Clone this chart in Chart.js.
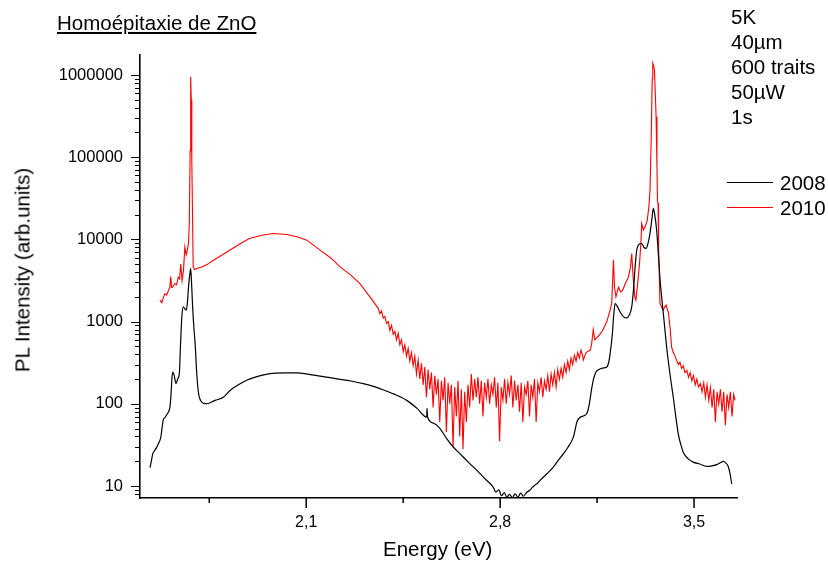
<!DOCTYPE html>
<html>
<head>
<meta charset="utf-8">
<script src="https://cdn.jsdelivr.net/npm/chart.js@4.4.0/dist/chart.umd.min.js"></script>
<style>
  body { margin: 0; background: #fff; }
  #wrap { position: relative; width: 828px; height: 564px; font-family: "Liberation Sans", Arial, sans-serif; color: #000; }
  #chart { position: absolute; left: 0; top: 0; }
  .txt { position: absolute; white-space: nowrap; font-size: 20.5px; line-height: 25px; }
  .legline { position: absolute; height: 0; width: 46px; }
</style>
</head>
<body>
<div id="wrap">
  <canvas id="chart" width="828" height="564"></canvas>
  <div class="txt" style="left:57px; top:10px; text-decoration: underline;">Homoépitaxie de ZnO</div>
  <div class="txt" style="left:731px; top:4px;">5K<br>40µm<br>600 traits<br>50µW<br>1s</div>
  <div class="legline" style="left:727px; top:182px; border-top:1.3px solid #000;"></div>
  <div class="txt" style="left:780px; top:170px;">2008</div>
  <div class="legline" style="left:727px; top:207px; border-top:1.3px solid #ff0000;"></div>
  <div class="txt" style="left:780px; top:195px;">2010</div>
  <div class="txt" style="left:383px; top:536px;">Energy (eV)</div>
  <div class="txt" style="left:22px; top:270px; transform: translate(-50%, -50%) rotate(-90deg);">PL Intensity (arb.units)</div>
</div>
<script>
// energy axis (eV) and PL intensity (arb. units)
const xTicks = [2.1, 2.8, 3.5];
const xMinorTicks = [1.75, 2.45, 3.15];
const yTicks = [10, 100, 1000, 10000, 100000, 1000000];

const energy2008 = [1.536, 1.541, 1.546, 1.553, 1.560, 1.567, 1.575, 1.580, 1.584, 1.590, 1.597, 1.603, 1.608, 1.612, 1.615, 1.618, 1.623, 1.630, 1.636, 1.642, 1.646, 1.651, 1.656, 1.662, 1.667, 1.671, 1.675, 1.680, 1.683, 1.686, 1.690, 1.695, 1.699, 1.704, 1.710, 1.716, 1.723, 1.731, 1.741, 1.771, 1.801, 1.825, 1.855, 1.885, 1.925, 1.969, 2.020, 2.066, 2.110, 2.150, 2.190, 2.222, 2.265, 2.306, 2.340, 2.366, 2.415, 2.463, 2.500, 2.535, 2.536, 2.538, 2.560, 2.583, 2.607, 2.630, 2.655, 2.685, 2.716, 2.745, 2.775, 2.785, 2.795, 2.805, 2.815, 2.824, 2.834, 2.844, 2.854, 2.864, 2.874, 2.884, 2.896, 2.906, 2.916, 2.926, 2.935, 2.944, 2.968, 2.992, 3.010, 3.028, 3.046, 3.064, 3.070, 3.077, 3.088, 3.100, 3.113, 3.122, 3.130, 3.136, 3.145, 3.155, 3.170, 3.185, 3.192, 3.197, 3.205, 3.210, 3.215, 3.222, 3.233, 3.245, 3.257, 3.266, 3.275, 3.282, 3.288, 3.293, 3.300, 3.305, 3.311, 3.320, 3.327, 3.334, 3.341, 3.348, 3.353, 3.358, 3.365, 3.372, 3.377, 3.383, 3.392, 3.401, 3.413, 3.425, 3.434, 3.443, 3.452, 3.461, 3.478, 3.497, 3.520, 3.546, 3.565, 3.582, 3.595, 3.606, 3.615, 3.624, 3.630, 3.636];
const pl2008 = [16.7, 20, 24.6, 27, 29.5, 33, 39, 52, 64, 68, 74, 80, 91, 130, 200, 243, 225, 176, 200, 234, 500, 1137, 1510, 1430, 1380, 1700, 2600, 3800, 4420, 3000, 1500, 800, 540, 260, 145, 115, 105, 101, 100, 110, 120, 145, 170, 193, 215, 233, 237, 237, 228, 217, 207, 198, 188, 176, 164, 153, 132, 110, 88, 69, 88, 69, 58, 50, 37.6, 30, 24.7, 19.5, 15.5, 12.3, 9.7, 8.4, 9.0, 7.6, 8.3, 7.3, 7.9, 7.2, 8.0, 7.3, 8.2, 7.5, 8.4, 8.8, 9.6, 10.3, 10.8, 11.7, 14, 17, 20.5, 24.6, 30, 39, 47, 60, 68, 71, 76, 100, 150, 193, 240, 260, 272, 280, 320, 407, 700, 1200, 1650, 1550, 1310, 1150, 1107, 1200, 1510, 2600, 5000, 7380, 8600, 8900, 8900, 7900, 7760, 9000, 11800, 18000, 23800, 20000, 12900, 6000, 3300, 2000, 1000, 490, 230, 120, 70, 43, 32, 25.8, 21.5, 19.5, 18.5, 17.3, 17.6, 18.2, 19.2, 19.9, 19, 17, 14, 10.6];

const energy2010 = [1.572, 1.579, 1.585, 1.590, 1.596, 1.601, 1.608, 1.611, 1.614, 1.618, 1.626, 1.632, 1.638, 1.643, 1.647, 1.652, 1.657, 1.662, 1.667, 1.671, 1.675, 1.678, 1.681, 1.683, 1.685, 1.687, 1.690, 1.692, 1.697, 1.705, 1.723, 1.745, 1.765, 1.795, 1.825, 1.860, 1.895, 1.940, 1.981, 2.030, 2.070, 2.102, 2.150, 2.190, 2.222, 2.260, 2.294, 2.330, 2.360,
  2.366, 2.372, 2.378, 2.384, 2.390, 2.396, 2.402, 2.408, 2.414, 2.420, 2.426, 2.432, 2.438, 2.444, 2.450, 2.456, 2.462, 2.468, 2.474, 2.480, 2.486, 2.492, 2.498, 2.504, 2.510, 2.516, 2.522, 2.528, 2.534, 2.540, 2.546, 2.552, 2.558, 2.564, 2.570, 2.576, 2.582, 2.588, 2.594, 2.600, 2.606, 2.612, 2.618, 2.624, 2.630, 2.636, 2.642, 2.648, 2.654, 2.660, 2.666, 2.672, 2.678, 2.684, 2.690, 2.696, 2.702, 2.708, 2.714, 2.720, 2.726, 2.732, 2.738, 2.744, 2.750, 2.756, 2.762, 2.768, 2.774, 2.780, 2.786, 2.792, 2.798, 2.804, 2.810, 2.816, 2.822, 2.828, 2.834, 2.840, 2.846, 2.852, 2.858, 2.864, 2.870, 2.876, 2.882, 2.888, 2.894, 2.900, 2.906, 2.912, 2.918, 2.924, 2.930, 2.936, 2.942, 2.948, 2.954, 2.960, 2.966, 2.972, 2.978, 2.984, 2.990, 2.996, 3.002, 3.008, 3.014, 3.020, 3.026, 3.032, 3.038, 3.044, 3.050, 3.056, 3.062, 3.068, 3.074, 3.080, 3.086, 3.092, 3.098,
  3.100, 3.110, 3.125, 3.130, 3.136, 3.142, 3.148, 3.160, 3.172, 3.185, 3.197, 3.203, 3.209, 3.213, 3.218, 3.227, 3.235, 3.242, 3.252, 3.263, 3.270, 3.275, 3.280, 3.286, 3.290, 3.296, 3.303, 3.308, 3.311, 3.317, 3.323, 3.331, 3.337, 3.341, 3.345, 3.349, 3.351, 3.354, 3.357, 3.360, 3.363, 3.366, 3.368, 3.370, 3.372, 3.377, 3.383, 3.389, 3.394, 3.399, 3.404, 3.408, 3.414, 3.419, 3.425, 3.431, 3.437,
  3.443, 3.449, 3.455, 3.461, 3.467, 3.474, 3.480, 3.486, 3.492, 3.498, 3.504, 3.510, 3.516, 3.523, 3.529, 3.535, 3.541, 3.547, 3.553, 3.559, 3.565, 3.571, 3.577, 3.583, 3.589, 3.595, 3.601, 3.607, 3.613, 3.619, 3.625, 3.631, 3.637, 3.643, 3.648];
const pl2010 = [1820, 1700, 2000, 2190, 2100, 2300, 2630, 3540, 2600, 2630, 2900, 2800, 3470, 3300, 5000, 3160, 4200, 8100, 6500, 7400, 9000, 15600, 120000, 954000, 500000, 92000, 15600, 4620, 4300, 4420, 4620, 5000, 5580, 6400, 7420, 8800, 10230, 11200, 11770, 11460, 10700, 9780, 7400, 5900, 4620, 3700, 2890, 2000, 1450,
  1250, 1350, 1100, 1150, 950, 1000, 780, 900, 700, 760, 600, 720, 520, 600, 430, 520, 380, 470, 330, 420, 290, 380, 230, 340, 200, 310, 170, 280, 120, 260, 150, 240, 90, 220, 130, 200, 60, 190, 110, 210, 45, 180, 100, 170, 30, 160, 70, 190, 40, 150, 28, 140, 60, 170, 90, 230, 110, 200, 120, 210, 100, 190, 70, 180, 120, 200, 100, 170, 130, 210, 90, 180, 35, 160, 110, 200, 100, 180, 130, 220, 90, 190, 110, 170, 80, 180, 60, 160, 130, 190, 70, 170, 120, 200, 60, 180, 140, 210, 120, 190, 150, 220, 140, 230, 170, 240, 160, 260, 200, 270, 210, 300, 240, 330, 260, 360, 300, 390, 330, 420, 360, 450, 380,
  340, 420, 450, 520, 800, 600, 630, 700, 800, 1000, 1380, 1700, 5630, 2600, 2000, 2630, 2300, 2400, 2900, 3470, 4500, 6720, 3500, 2000, 1820, 2800, 5000, 9000, 15500, 13000, 14100, 17000, 25000, 40000, 150000, 900000, 1390000, 1300000, 1150000, 600000, 310000, 80000, 29000, 27600, 8100, 1650, 1500, 1380, 1500, 1590, 1400, 1250, 800, 490, 420, 380, 340,
  300, 320, 270, 290, 240, 255, 210, 240, 190, 220, 170, 200, 160, 176, 140, 180, 120, 170, 110, 158, 90, 150, 60, 140, 100, 150, 80, 140, 55, 130, 90, 140, 70, 130, 110];

const toPoints = (xs, ys) => xs.map((x, i) => ({ x: x, y: ys[i] }));

// tick marks drawn outward, long for labelled ticks, short for minor ones
const tickMarks = {
  id: 'tickMarks',
  afterDraw(chart) {
    const ctx = chart.ctx;
    const xs = chart.scales.x, ys = chart.scales.y;
    ctx.save();
    ctx.strokeStyle = '#000';
    ctx.lineWidth = 1.5;
    ctx.beginPath();
    xTicks.forEach(v => { const p = xs.getPixelForValue(v); ctx.moveTo(p, ys.bottom); ctx.lineTo(p, ys.bottom + 10); });
    xMinorTicks.forEach(v => { const p = xs.getPixelForValue(v); ctx.moveTo(p, ys.bottom); ctx.lineTo(p, ys.bottom + 5); });
    ctx.stroke();
    ctx.lineWidth = 1;
    ctx.beginPath();
    for (let d = 0; d <= 6; d++) {
      for (let k = 1; k <= 9; k++) {
        const v = k * Math.pow(10, d);
        if (v < ys.min || v > ys.max) continue;
        const p = Math.round(ys.getPixelForValue(v)) + 0.5;
        ctx.moveTo(xs.left, p);
        ctx.lineTo(xs.left - (k === 1 ? 9 : 5), p);
      }
    }
    ctx.stroke();
    ctx.restore();
  }
};

new Chart(document.getElementById('chart'), {
  type: 'line',
  data: {
    datasets: [
      {
        label: '2008',
        data: toPoints(energy2008, pl2008),
        borderColor: '#000000',
        borderWidth: 1.2,
        pointRadius: 0,
        cubicInterpolationMode: 'monotone'
      },
      {
        label: '2010',
        data: toPoints(energy2010, pl2010),
        borderColor: '#ff0000',
        borderWidth: 1.1,
        pointRadius: 0,
        tension: 0
      }
    ]
  },
  options: {
    responsive: false,
    animation: false,
    devicePixelRatio: 1,
    layout: { padding: { left: 0, right: 91, top: 55, bottom: 0 } },
    plugins: { legend: { display: false }, tooltip: { enabled: false } },
    scales: {
      x: {
        type: 'linear',
        min: 1.5,
        max: 3.655,
        grid: { display: false },
        border: { display: true, color: '#000', width: 1.6 },
        afterBuildTicks: s => { s.ticks = xTicks.map(v => ({ value: v })); },
        afterFit: s => { s.height = 66; },
        ticks: {
          color: '#000',
          padding: 7,
          font: { family: 'Liberation Sans', size: 16 },
          callback: v => String(v).replace('.', ',')
        }
      },
      y: {
        type: 'logarithmic',
        min: 7.14,
        max: 1750000,
        grid: { display: false },
        border: { display: true, color: '#000', width: 1.6 },
        afterBuildTicks: s => { s.ticks = yTicks.map(v => ({ value: v })); },
        afterFit: s => { s.width = 140; },
        ticks: {
          color: '#000',
          padding: 9,
          font: { family: 'Liberation Sans', size: 16.5 },
          callback: v => String(v)
        }
      }
    }
  },
  plugins: [tickMarks]
});
</script>
</body>
</html>
